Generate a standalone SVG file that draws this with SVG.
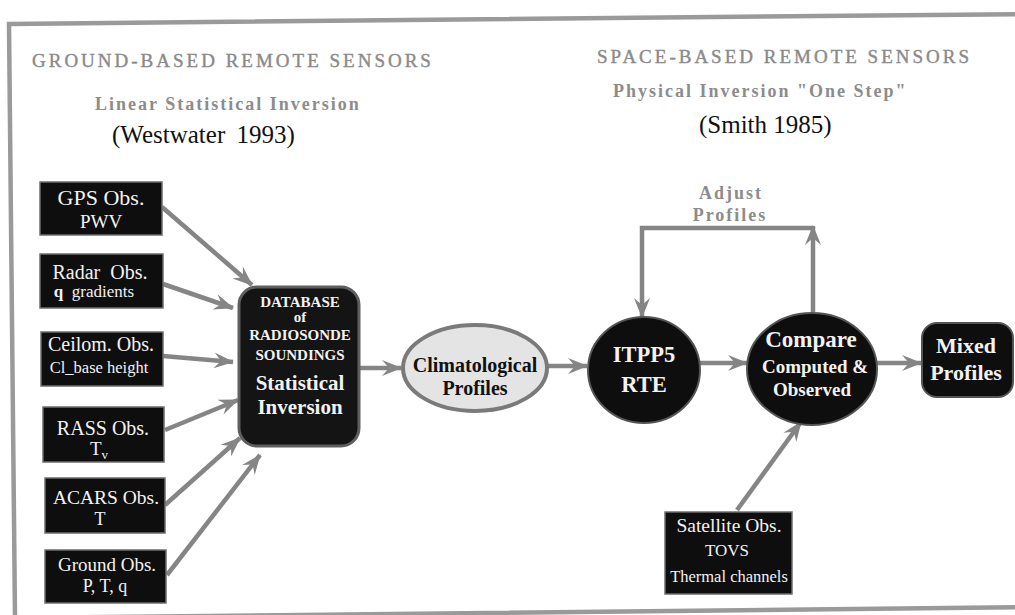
<svg xmlns="http://www.w3.org/2000/svg" width="1015" height="615" viewBox="0 0 1015 615">
<style>
.hdr{font-family:"Liberation Serif",serif;fill:#8a8a8a;stroke:#8a8a8a;stroke-width:0.4;font-size:19px;letter-spacing:3px}
.sub{font-family:"Liberation Serif",serif;fill:#8c8c8c;font-size:18px;font-weight:bold;letter-spacing:2px}
.ref{font-family:"Liberation Serif",serif;fill:#111;font-size:25px}
.box{fill:#0e0e0e;stroke:#6e6e6e;stroke-width:1.5}
.bt{font-family:"Liberation Serif",serif;fill:#f2f2f2;text-anchor:middle}
.bw{font-family:"Liberation Serif",serif;fill:#f2f2f2;text-anchor:middle;font-weight:bold}
.con{stroke:#858585;stroke-width:4.5;fill:none}
</style>
<defs>
<marker id="ah" markerWidth="22" markerHeight="18" refX="19" refY="9" orient="auto" markerUnits="userSpaceOnUse">
<path d="M0,1 L20,9 L0,17 L7,9 Z" fill="#858585"/>
</marker>
</defs>
<rect width="1015" height="615" fill="#fff"/>
<polygon id="frame" points="9,24 1030,14 1036,607 15,618" fill="none" stroke="#9a9a9a" stroke-width="4.5"/>

<g id="headers">
<text class="hdr" x="32" y="67">GROUND-BASED REMOTE SENSORS</text>
<text class="sub" x="95" y="110">Linear Statistical Inversion</text>
<text class="ref" x="112" y="143" word-spacing="5">(Westwater 1993)</text>
<text class="hdr" x="597" y="63">SPACE-BASED REMOTE SENSORS</text>
<text class="sub" x="613" y="97">Physical Inversion "One Step"</text>
<text class="ref" x="699" y="133">(Smith 1985)</text>
</g>

<g id="connectors">
<line class="con" x1="162" y1="207" x2="252" y2="285" marker-end="url(#ah)"/>
<line class="con" x1="163" y1="284" x2="233" y2="308" marker-end="url(#ah)"/>
<line class="con" x1="163" y1="356" x2="233" y2="362" marker-end="url(#ah)"/>
<line class="con" x1="165" y1="430" x2="238" y2="400" marker-end="url(#ah)"/>
<line class="con" x1="165" y1="505" x2="240" y2="438" marker-end="url(#ah)"/>
<line class="con" x1="167" y1="575" x2="260" y2="455" marker-end="url(#ah)"/>
<line class="con" x1="360" y1="368" x2="401" y2="368" marker-end="url(#ah)"/>
<line class="con" x1="548" y1="366" x2="587" y2="366" marker-end="url(#ah)"/>
<line class="con" x1="700" y1="363" x2="747" y2="363" marker-end="url(#ah)"/>
<line class="con" x1="877" y1="363" x2="921" y2="363" marker-end="url(#ah)"/>
<line class="con" x1="737" y1="510" x2="801" y2="422" marker-end="url(#ah)"/>
<line class="con" x1="813" y1="312" x2="813" y2="226" marker-end="url(#ah)"/>
<polyline class="con" points="813,228 642,228 642,317" marker-end="url(#ah)"/>
</g>
<g id="adjust-label">
<text class="sub" x="731" y="199" text-anchor="middle" font-size="21" letter-spacing="1.5">Adjust</text>
<text class="sub" x="730" y="221" text-anchor="middle" font-size="21" letter-spacing="1.5">Profiles</text>
</g>

<g id="gps">
<rect class="box" x="40" y="182" width="122" height="53"/>
<text class="bt" x="101" y="205" font-size="22">GPS Obs.</text>
<text class="bt" x="101" y="228" font-size="19">PWV</text>
</g>
<g id="radar">
<rect class="box" x="40" y="254" width="123" height="54"/>
<text class="bt" x="100" y="279" font-size="20" xml:space="preserve">Radar  Obs.</text>
<text class="bt" x="94" y="297" font-size="17" xml:space="preserve"><tspan font-weight="bold">q</tspan>  gradients</text>
</g>
<g id="ceilom">
<rect class="box" x="41" y="332" width="122" height="54"/>
<text class="bt" x="101" y="351" font-size="20">Ceilom. Obs.</text>
<text class="bt" x="99" y="373" font-size="16.5">Cl_base height</text>
</g>
<g id="rass">
<rect class="box" x="43" y="407" width="121" height="55"/>
<text class="bt" x="103" y="435" font-size="20">RASS Obs.</text>
<text class="bt" x="99" y="455" font-size="19">T<tspan font-size="13" dy="4">v</tspan></text>
</g>
<g id="acars">
<rect class="box" x="45" y="478" width="120" height="55"/>
<text class="bt" x="106" y="504" font-size="19.5">ACARS Obs.</text>
<text class="bt" x="100" y="525" font-size="18">T</text>
</g>
<g id="ground">
<rect class="box" x="45" y="550" width="121" height="53"/>
<text class="bt" x="107" y="571" font-size="19">Ground Obs.</text>
<text class="bt" x="105" y="592" font-size="18">P, T, q</text>
</g>

<g id="database">
<rect x="239" y="287" width="120" height="159" rx="18" fill="#141414" stroke="#5e5e5e" stroke-width="3"/>
<text class="bw" x="300" y="307" font-size="15">DATABASE</text>
<text class="bw" x="300" y="322" font-size="15">of</text>
<text class="bw" x="300" y="340" font-size="15">RADIOSONDE</text>
<text class="bw" x="300" y="360" font-size="15">SOUNDINGS</text>
<text class="bw" x="300" y="390" font-size="21">Statistical</text>
<text class="bw" x="300" y="414" font-size="21">Inversion</text>
</g>

<g id="climatological">
<ellipse cx="475" cy="368" rx="72" ry="43" fill="#e4e4e4" stroke="#7a7a7a" stroke-width="4"/>
<text x="475" y="372" text-anchor="middle" font-family="Liberation Serif, serif" font-weight="bold" font-size="20" fill="#111">Climatological</text>
<text x="475" y="395" text-anchor="middle" font-family="Liberation Serif, serif" font-weight="bold" font-size="20" fill="#111">Profiles</text>
</g>

<g id="itpp5">
<ellipse cx="644" cy="370" rx="56" ry="53" fill="#0e0e0e" stroke="#555" stroke-width="2"/>
<text class="bw" x="644" y="362" font-size="22.5">ITPP5</text>
<text class="bw" x="644" y="392" font-size="22.5">RTE</text>
</g>

<g id="compare">
<ellipse cx="812" cy="369" rx="65" ry="56" fill="#0e0e0e" stroke="#555" stroke-width="2"/>
<text class="bw" x="811" y="347" font-size="23">Compare</text>
<text class="bw" x="815" y="373" font-size="19">Computed &amp;</text>
<text class="bw" x="812" y="396" font-size="19">Observed</text>
</g>

<g id="mixed">
<rect x="922" y="323" width="91" height="74" rx="15" fill="#0e0e0e" stroke="#555" stroke-width="2"/>
<text class="bw" x="966" y="353" font-size="22">Mixed</text>
<text class="bw" x="966" y="380" font-size="22">Profiles</text>
</g>

<g id="satellite">
<rect class="box" x="665" y="512" width="127" height="82"/>
<text class="bt" x="729" y="532" font-size="19.5">Satellite Obs.</text>
<text class="bt" x="727" y="556" font-size="17">TOVS</text>
<text class="bt" x="729" y="582" font-size="16.5">Thermal channels</text>
</g>
</svg>
